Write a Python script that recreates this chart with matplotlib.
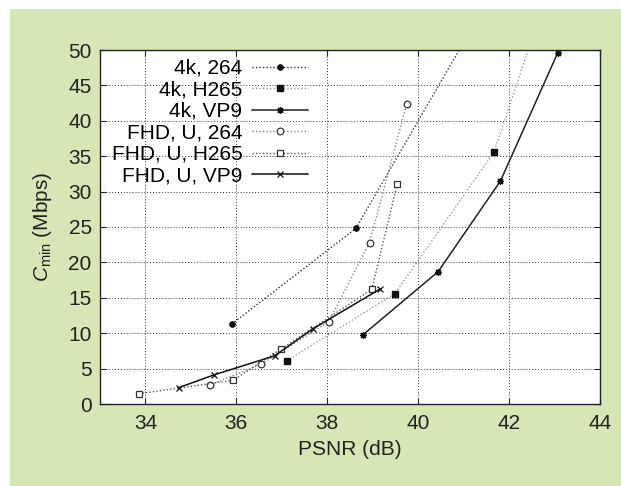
import matplotlib
matplotlib.use('Agg')
import matplotlib.pyplot as plt
from matplotlib.patches import Rectangle

plt.rcParams['font.family'] = ['Liberation Sans', 'DejaVu Sans']
plt.rcParams['mathtext.fontset'] = 'custom'
plt.rcParams['mathtext.rm'] = 'Liberation Sans'
plt.rcParams['mathtext.it'] = 'Liberation Sans:italic'

# === Данные (PSNR в dB, C_min в Mbps) ===
psnr_4k_264 = [35.90, 38.63, 41.30]
cmin_4k_264 = [11.3, 24.8, 54.4]

psnr_4k_h265 = [37.11, 39.49, 41.67, 42.80]
cmin_4k_h265 = [6.1, 15.6, 35.6, 57.3]

psnr_4k_vp9 = [38.79, 40.44, 41.81, 43.07]
cmin_4k_vp9 = [9.8, 18.7, 31.5, 49.6]

psnr_fhd_264 = [35.42, 36.54, 38.03, 38.93, 39.75]
cmin_fhd_264 = [2.7, 5.6, 11.6, 22.8, 42.4]

psnr_fhd_h265 = [33.86, 35.93, 36.99, 38.98, 39.54]
cmin_fhd_h265 = [1.45, 3.35, 7.8, 16.2, 31.1]

psnr_fhd_vp9 = [34.73, 35.50, 36.84, 37.68, 39.15]
cmin_fhd_vp9 = [2.3, 4.1, 6.8, 10.6, 16.2]

labels = ['4k, 264', '4k, H265', '4k, VP9', 'FHD, U, 264', 'FHD, U, H265', 'FHD, U, VP9']
x_ticks = [34, 36, 38, 40, 42, 44]
y_ticks = [0, 5, 10, 15, 20, 25, 30, 35, 40, 45, 50]

fig = plt.figure(figsize=(6.21, 4.86), dpi=100)
# зелёная подложка
fig.patches.append(Rectangle((10 / 621, 0), 1 - 10 / 621, (486 - 9) / 486,
                             transform=fig.transFigure, facecolor='#d6e6b5',
                             edgecolor='none', zorder=-10))
ax = fig.add_axes([100 / 621, (486 - 404) / 486, 500 / 621, 354 / 486])

dot = (0, (1, 1.5))
ax.plot(psnr_4k_264, cmin_4k_264, linestyle=dot, color='#333333', lw=1.0,
        marker='o', ms=3.8, mfc='#111111', mec='#111111', label=labels[0])
ax.plot(psnr_4k_h265, cmin_4k_h265, linestyle=dot, color='#999999', lw=1.0,
        marker='s', ms=4.8, mfc='#111111', mec='#111111', label=labels[1])
ax.plot(psnr_4k_vp9, cmin_4k_vp9, linestyle='-', color='#222222', lw=1.1,
        marker=(8, 2, 0), ms=5, mec='#111111', mew=0.9, label=labels[2])
ax.plot(psnr_fhd_264, cmin_fhd_264, linestyle=dot, color='#888888', lw=1.0,
        marker='o', ms=4.8, mfc='white', mec='#333333', mew=0.9, label=labels[3])
ax.plot(psnr_fhd_h265, cmin_fhd_h265, linestyle=dot, color='#555555', lw=1.0,
        marker='s', ms=4.8, mfc='white', mec='#333333', mew=0.9, label=labels[4])
ax.plot(psnr_fhd_vp9, cmin_fhd_vp9, linestyle='-', color='#111111', lw=1.1,
        marker='x', ms=4.5, mec='#111111', mew=0.9, label=labels[5])

ax.set_xlim(33, 44)
ax.set_ylim(0, 50)
ax.set_xticks(x_ticks)
ax.set_yticks(y_ticks)
ax.tick_params(direction='in', length=4, width=0.8, top=True, right=True,
               labelsize=15, colors='#222222')
ax.tick_params(axis='x', pad=7)
ax.tick_params(axis='y', pad=6)
ax.grid(True, linestyle=(0, (1, 2)), color='#333333', lw=0.7)
for s in ax.spines.values():
    s.set_linewidth(1.0)
    s.set_color('#222222')

ax.set_xlabel('PSNR (dB)', fontsize=15, color='#222222', labelpad=5)
ax.set_ylabel(r'$C_{\rm min}$ (Mbps)', fontsize=15, color='#222222', labelpad=10)

ax.legend(loc='upper right', bbox_to_anchor=(208 / 500, 0.975), markerfirst=False,
          frameon=False, fontsize=15, handlelength=2.7, handletextpad=0.45,
          labelspacing=0.12, borderpad=0, borderaxespad=0, numpoints=1)

fig.savefig('out.png', dpi=100)
